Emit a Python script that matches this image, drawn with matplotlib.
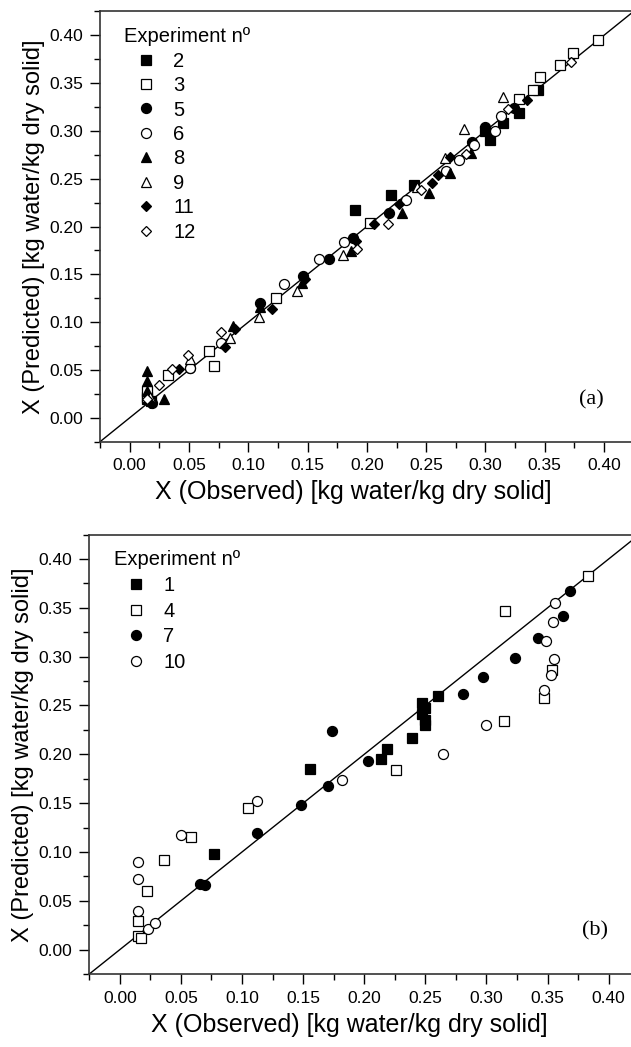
import numpy as np
import matplotlib
matplotlib.use('Agg')
import matplotlib.pyplot as plt
from matplotlib.ticker import MultipleLocator

plt.rcParams['font.family'] = ['Liberation Sans', 'DejaVu Sans']

# ---- panel (a) data: (observed, predicted) ----
exp2_obs = [0.015, 0.018, 0.190, 0.220, 0.240, 0.300, 0.304, 0.315, 0.328, 0.344]
exp2_pred = [0.020, 0.018, 0.217, 0.233, 0.243, 0.300, 0.290, 0.308, 0.319, 0.343]
exp3_obs = [0.015, 0.015, 0.032, 0.067, 0.071, 0.123, 0.203, 0.328, 0.340, 0.346, 0.363, 0.374, 0.395]
exp3_pred = [0.022, 0.028, 0.045, 0.070, 0.054, 0.125, 0.204, 0.333, 0.343, 0.356, 0.369, 0.381, 0.395]
exp5_obs = [0.019, 0.051, 0.110, 0.146, 0.168, 0.188, 0.219, 0.289, 0.300, 0.324]
exp5_pred = [0.016, 0.052, 0.120, 0.148, 0.166, 0.188, 0.214, 0.288, 0.304, 0.324]
exp6_obs = [0.017, 0.051, 0.077, 0.130, 0.160, 0.181, 0.233, 0.267, 0.278, 0.290, 0.308, 0.313]
exp6_pred = [0.018, 0.052, 0.078, 0.140, 0.166, 0.184, 0.228, 0.258, 0.270, 0.285, 0.300, 0.316]
exp8_obs = [0.015, 0.015, 0.015, 0.029, 0.087, 0.110, 0.145, 0.187, 0.230, 0.252, 0.270, 0.288]
exp8_pred = [0.049, 0.038, 0.028, 0.020, 0.096, 0.116, 0.141, 0.174, 0.214, 0.235, 0.256, 0.277]
exp9_obs = [0.017, 0.051, 0.085, 0.109, 0.141, 0.180, 0.242, 0.266, 0.282, 0.315]
exp9_pred = [0.022, 0.061, 0.083, 0.105, 0.133, 0.170, 0.241, 0.272, 0.302, 0.335]
exp11_obs = [0.017, 0.042, 0.080, 0.0885, 0.120, 0.148, 0.191, 0.206, 0.227, 0.255, 0.260, 0.270, 0.335]
exp11_pred = [0.015, 0.051, 0.074, 0.0925, 0.114, 0.145, 0.185, 0.203, 0.224, 0.245, 0.254, 0.273, 0.332]
exp12_obs = [0.015, 0.025, 0.036, 0.049, 0.077, 0.192, 0.218, 0.246, 0.284, 0.319, 0.372]
exp12_pred = [0.020, 0.034, 0.051, 0.066, 0.090, 0.176, 0.203, 0.238, 0.276, 0.323, 0.372]

# ---- panel (b) data ----
exp1_obs = [0.077, 0.156, 0.214, 0.2185, 0.239, 0.247, 0.2496, 0.247, 0.2496, 0.2496, 0.260]
exp1_pred = [0.098, 0.185, 0.195, 0.205, 0.217, 0.2525, 0.2474, 0.2413, 0.2355, 0.2304, 0.2594]
exp4_obs = [0.015, 0.017, 0.015, 0.022, 0.036, 0.058, 0.1045, 0.2256, 0.3145, 0.315, 0.347, 0.354, 0.383]
exp4_pred = [0.014, 0.012, 0.029, 0.060, 0.0915, 0.115, 0.145, 0.184, 0.2345, 0.347, 0.258, 0.286, 0.383]
exp7_obs = [0.066, 0.0696, 0.112, 0.148, 0.170, 0.174, 0.203, 0.281, 0.297, 0.323, 0.342, 0.3625, 0.368]
exp7_pred = [0.067, 0.0666, 0.119, 0.148, 0.168, 0.2236, 0.193, 0.2618, 0.279, 0.2986, 0.319, 0.342, 0.367]
exp10_obs = [0.015, 0.015, 0.015, 0.023, 0.029, 0.050, 0.112, 0.182, 0.2643, 0.2998, 0.3475, 0.353, 0.355, 0.349, 0.3546, 0.356]
exp10_pred = [0.090, 0.072, 0.040, 0.0215, 0.027, 0.117, 0.152, 0.174, 0.2003, 0.2304, 0.266, 0.2816, 0.298, 0.316, 0.335, 0.355]

series_a = [('2', exp2_obs, exp2_pred, 's', 'k'),
            ('3', exp3_obs, exp3_pred, 's', 'w'),
            ('5', exp5_obs, exp5_pred, 'o', 'k'),
            ('6', exp6_obs, exp6_pred, 'o', 'w'),
            ('8', exp8_obs, exp8_pred, '^', 'k'),
            ('9', exp9_obs, exp9_pred, '^', 'w'),
            ('11', exp11_obs, exp11_pred, 'D', 'k'),
            ('12', exp12_obs, exp12_pred, 'D', 'w')]
series_b = [('1', exp1_obs, exp1_pred, 's', 'k'),
            ('4', exp4_obs, exp4_pred, 's', 'w'),
            ('7', exp7_obs, exp7_pred, 'o', 'k'),
            ('10', exp10_obs, exp10_pred, 'o', 'w')]

msize = {'s': 6.5, 'o': 7.2, '^': 7.5, 'D': 5.3}
lims = [-0.025, 0.425]

fig = plt.figure(figsize=(6.31, 10.47), dpi=100)
ax_a = fig.add_axes([0.1585, 0.5781, 0.8458, 0.4111])
ax_b = fig.add_axes([0.1415, 0.0697, 0.8715, 0.4197])


def draw(ax, series, tag, leg_anchor, lspace, xlab_x):
    ax.plot(lims, lims, color='k', lw=1.0, zorder=1)
    for name, xo, yp, m, fc in series:
        ax.plot(xo, yp, ls='none', marker=m, ms=msize[m], mfc=fc, mec='k',
                mew=0.9, color='k', label=name, zorder=3)
    ax.set_xlim(lims)
    ax.set_ylim(lims)
    ax.xaxis.set_major_locator(MultipleLocator(0.05))
    ax.xaxis.set_minor_locator(MultipleLocator(0.025))
    ax.yaxis.set_major_locator(MultipleLocator(0.05))
    ax.yaxis.set_minor_locator(MultipleLocator(0.025))
    ax.xaxis.set_major_formatter(lambda v, p: f'{v:.2f}')
    ax.yaxis.set_major_formatter(lambda v, p: f'{v:.2f}')
    ax.tick_params(which='both', direction='out', top=False, right=False,
                   labelsize=12.5, width=1.0, pad=5)
    ax.tick_params(which='major', length=7)
    ax.tick_params(which='minor', length=4)
    for sp in ax.spines.values():
        sp.set_linewidth(1.2)
        sp.set_color('#333333')
    ax.set_xlabel('X (Observed) [kg water/kg dry solid]', fontsize=18, labelpad=5)
    ax.xaxis.label.set_x(xlab_x)
    ax.set_ylabel('X (Predicted) [kg water/kg dry solid]', fontsize=17, labelpad=3)
    ax.text(0.389, 0.019, tag, fontsize=16, family='Liberation Serif',
            ha='center', va='center')
    ax.legend(title='Experiment nº', loc='upper left', bbox_to_anchor=leg_anchor,
              frameon=False, fontsize=14.5, title_fontsize=14.5, alignment='left',
              handlelength=2.2, handletextpad=0.25, labelspacing=lspace,
              borderpad=0, borderaxespad=0)


draw(ax_a, series_a, '(a)', (0.045, 0.963), 0.27, 0.474)
draw(ax_b, series_b, '(b)', (0.045, 0.964), 0.33, 0.472)

fig.savefig('out.png', dpi=100)
